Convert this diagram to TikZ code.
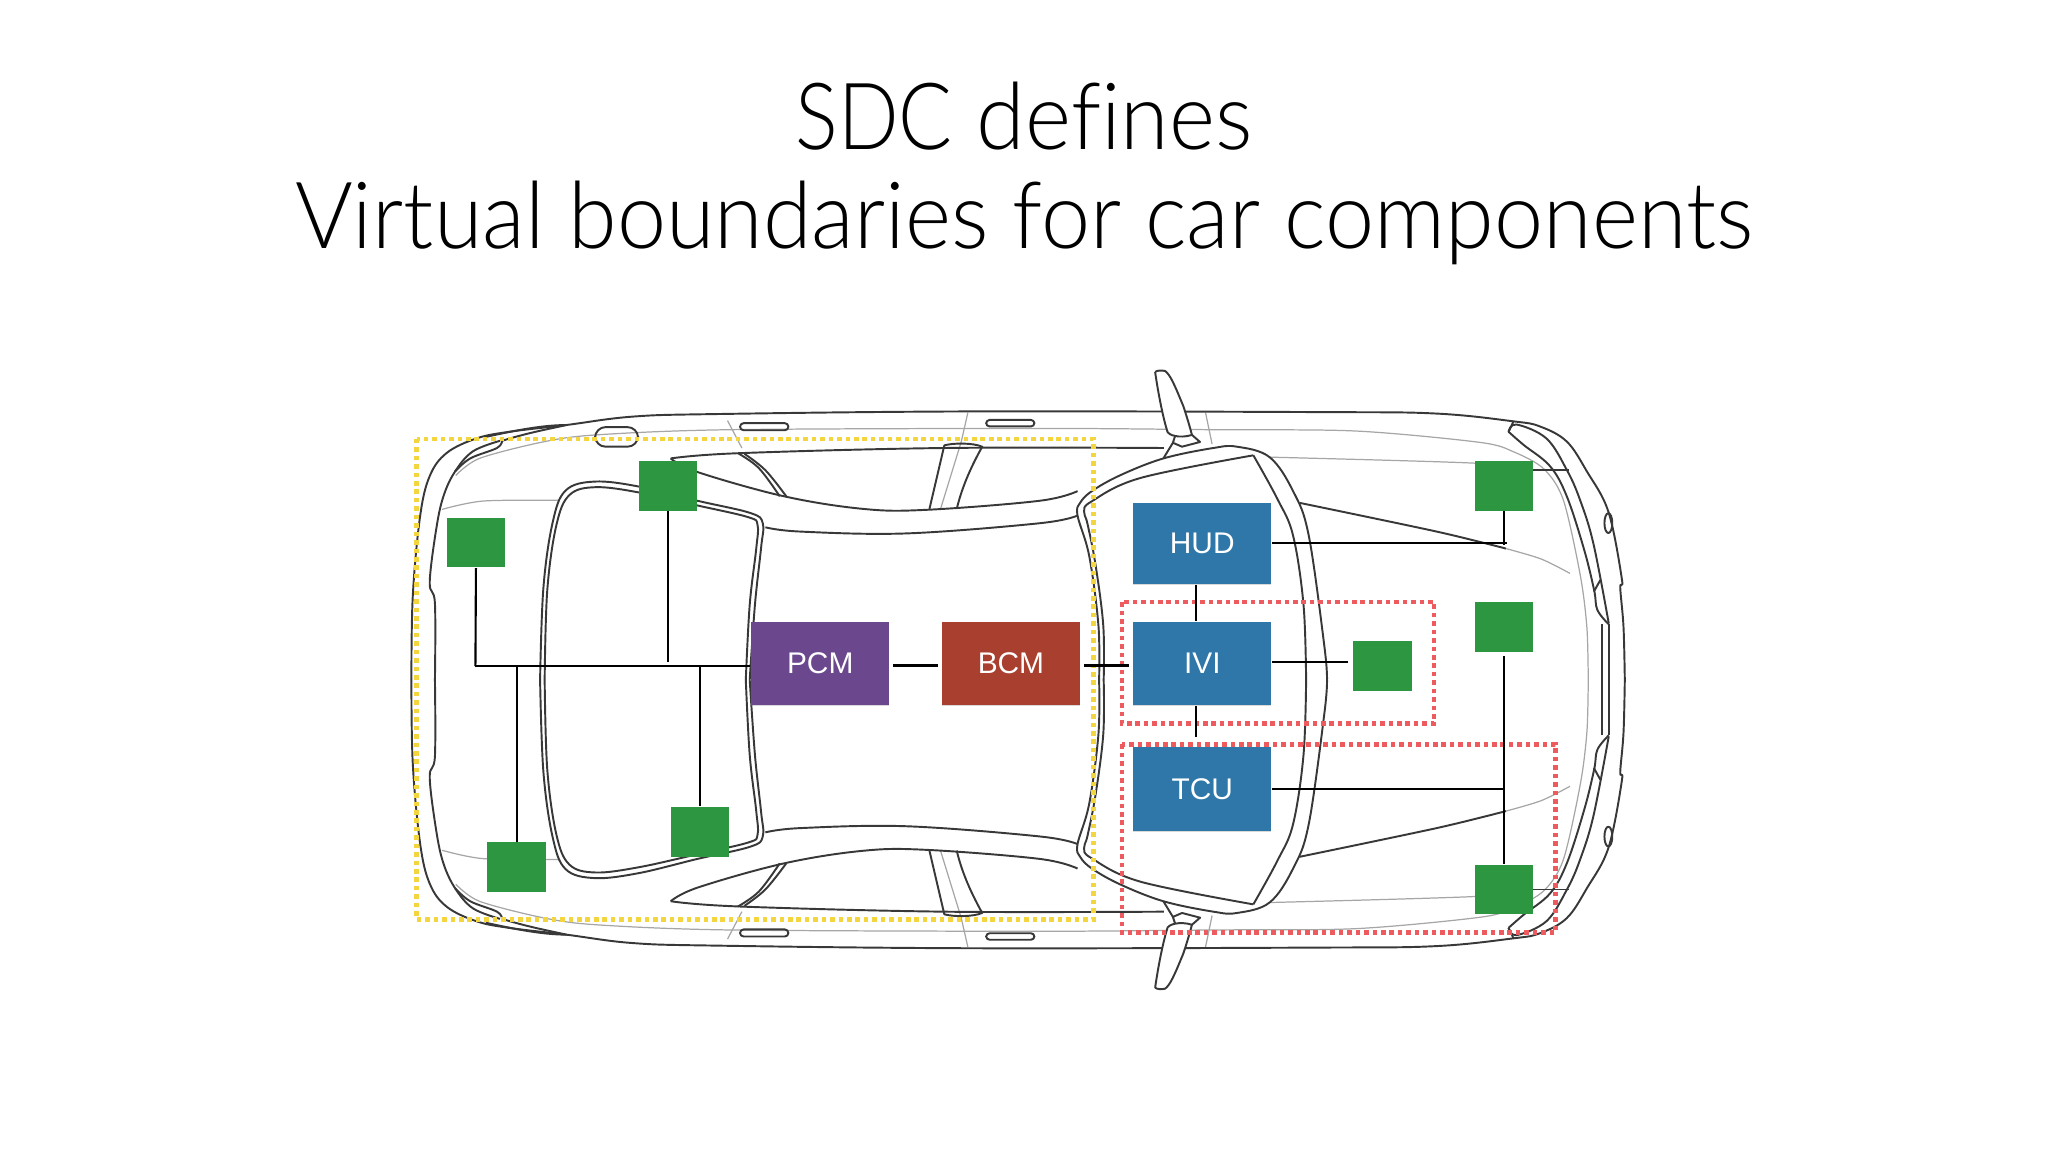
\documentclass[tikz,border=0pt]{standalone}
\usepackage{xcolor}
\usepackage{fontspec}
\usepackage{tikz}
\usetikzlibrary{calc}
\usetikzlibrary{shadows}
\setmainfont{Carlito}
\newfontfamily\titlefont{Lato Light}[FakeStretch=.95, Ligatures=NoCommon]
\newfontfamily\titlecaps{Lato Light}[FakeStretch=.86]
\newfontfamily\boxfont{Liberation Sans}
\definecolor{pcmcol}{HTML}{6B488E}
\definecolor{bcmcol}{HTML}{A93F2E}
\definecolor{ecucol}{HTML}{2E77A8}
\definecolor{sensorcol}{HTML}{2D9640}
\definecolor{yellowzone}{HTML}{F3D63F}
\definecolor{redzone}{HTML}{EE5B5E}
\tikzstyle{body} = [draw=black!78, line width=.55pt, line join=round]
\tikzstyle{seam} = [draw=black!35, line width=.35pt]
\tikzstyle{wire} = [-, draw=black, line width=.6pt]
\tikzstyle{zone} = [line width=1.3pt, dash pattern=on 1.3pt off 1.1pt]
\tikzstyle{ecu} = [rectangle, inner sep=0pt, minimum width=1.384cm, minimum height=.836cm, text=white, font=\boxfont\fontsize{8.5}{10}\selectfont, drop shadow={opacity=.3, shadow xshift=0pt, shadow yshift=-.3pt}]
\tikzstyle{sensor} = [rectangle, fill=sensorcol, inner sep=0pt, minimum width=.588cm, minimum height=.496cm]
\newcommand{\carhalf}{
  % shell
  \draw [seam] plot [smooth] coordinates {(338.5,390) (370,383.6) (428.5,383)};
  \draw [seam] plot [smooth] coordinates {(349,364) (367,351) (415,338.5) (456,333) (558,329) (796,328) (929,329) (1038,330) (1133,338.7) (1159,346) (1182,359) (1197,383) (1210,441) (1215,481) (1216,520.5)};
  \draw [seam] (557,322) -- (568,343) (741,316) -- (736,338) -- (720,390) (923,316) -- (928,340);
  \draw [seam] plot [smooth] coordinates {(972,350) (1129,354.6) (1174,360)};
  \draw [body] plot [smooth, tension=.6] coordinates {(315,520.5) (316,457) (321.6,395.6) (329,364.5) (342,346.8) (365,335.6) (390.5,330.5) (433.6,325.4) (484,319) (549,317) (742,315) (1008,315.5) (1099,316.6) (1158.8,322.6) (1179,326.5) (1199.5,338) (1215,361) (1231.5,392) (1241.7,443) (1240.5,450) (1243,480) (1244,520.5)};
  \draw [body] plot [smooth, tension=.6] coordinates {(333,520.5) (333,462) (329,446) (334,405) (339.5,380) (348.4,361) (362,345.6) (382.8,337.5)};
  \draw [body] plot [smooth, tension=.6] coordinates {(348.4,361) (360,351) (380.5,343) (384.4,337.5)};
  \draw [body] (372,334.5) .. controls (395,329.5) and (415,325.5) .. (433.6,325.4) .. controls (425,327.5) and (405,331) .. (384.4,337.5);
  % door handles
  \draw [body, rounded corners=1pt] (566.6,324) rectangle (603.6,329.4);
  \draw [body, rounded corners=1pt] (755,321.5) rectangle (792,326.5);
  % rear window
  \draw [body] plot [smooth, tension=.6] coordinates {(413.5,520.5) (416,450.6) (423,400.6) (433,375.6) (455.4,368.7) (489,372.5) (534,383.4) (574.6,392.8) (584,400.6) (582.7,419.4) (578,463) (574,520.5)};
  \draw [body] plot [smooth, tension=.6] coordinates {(417,520.5) (419,452) (426,402) (436,379) (456,373) (489,377) (534,387) (573,396) (580,402) (579,420) (574,463) (571,520.5)};
  % roof edges
  \draw [body] plot [smooth, tension=.6] coordinates {(513.5,351) (534.3,361.5) (600.4,380) (661.6,389.7) (710,390.3) (796,383.4) (825,376)};
  \draw [body] plot [smooth, tension=.6] coordinates {(586,403.7) (613,407) (694,408.4) (796,400.6) (825,394.7)};
  % side glass and pillars
  \draw [body] plot [smooth, tension=.6] coordinates {(513.5,351) (565,347) (723,343) (891,343)};
  \draw [body] plot [smooth, tension=.6] coordinates {(565,347) (581,358.4) (597,380)};
  \draw [body] plot [smooth, tension=.6] coordinates {(570,347.5) (586,360) (602,380)};
  \draw [body] (711.6,389.7) -- (723,341) .. controls (730,339) and (745,339) .. (752,342) .. controls (742,360) and (736,375) .. (732.5,389.7);
  % windshield
  \draw [body] plot [smooth, tension=.6] coordinates {(845,520.5) (844.7,479) (838.7,432) (832.6,401) (830,391.6) (835.6,384) (873,366) (959.6,348.6)};
  \draw [body] plot [smooth, tension=.6] coordinates {(841.5,520.5) (841,479) (834,426) (825,394.7) (827,385) (836,376) (857.6,363.9) (890.7,351) (929,343) (947,342) (972,350) (990,376) (1002,410) (1014,495) (1016,520.5)};
  \draw [body] plot [smooth, tension=.6] coordinates {(959.6,348.6) (978,382) (990,410) (998,463) (1000,520.5)};
  % mirror
  \draw [body, fill=white] (884.4,284.8) .. controls (886,283.5) and (889,283.5) .. (892,284) .. controls (896,287) and (899,294) .. (906,311) .. controls (909,320) and (911,327) .. (912.6,333) .. controls (908,334.5) and (903,334.5) .. (899.7,333.8) .. controls (896,333) and (895,332) .. (894,331) .. controls (891,322) and (887,303) .. (884.4,284.8);
  \draw [body] (899.7,333.8) -- (898,339) -- (890.7,351) (912.6,333) -- (918.8,338.4) -- (905,342) -- (898,339);
  % hood
  \draw [body] plot [smooth] coordinates {(995,385) (1100,407) (1153,420)};
  \draw [seam] plot [smooth] coordinates {(1153,420) (1180,428) (1202,439)};
  % headlamp
  \draw [body] plot [smooth, tension=.6] coordinates {(1155,330.6) (1161,325) (1184,335.7) (1199.7,360) (1209.8,383) (1220,416.4) (1231.7,477.2)};
  \draw [body] plot [smooth, tension=.6] coordinates {(1155,330.6) (1166.6,340.7) (1186.8,357) (1199.7,380.3) (1212.9,421) (1220.5,451.8) (1223,467) (1231.7,478)};
  \draw [body] (1155,330.6) -- (1158.8,322.6);
  \draw [body] (1174,360) -- (1201,360);
  \draw [body] (1225.3,444) -- (1220.3,453);
  \draw [body] (1226.5,478) -- (1226.5,520.5) (1231.7,478) -- (1231.7,520.5);
  \draw [body] (1231.4,400.5) ellipse [x radius=3, y radius=7.6];
}
\begin{document}
\begin{tikzpicture}[x=.0130612cm, y=-.0130612cm]
\useasboundingbox (0,0) rectangle (1568,882);
\node [font=\titlefont\fontsize{26.4}{28.1}\selectfont, align=center, text=black] (title) at (784,132.5) {{\titlecaps SDC} defines\\Virtual boundaries for car components};
\carhalf
\begin{scope}[shift={(0,1041)}, yscale=-1]
\carhalf
\end{scope}
\draw [body, rounded corners=3pt] (455.6,327) rectangle (488.5,342);
\draw [zone, draw=yellowzone] (319,336) rectangle (837,704);
\draw [zone, draw=redzone] (859,461) rectangle (1098,554);
\draw [zone, draw=redzone] (859,570) rectangle (1191,714);
\node [ecu, fill=pcmcol] (PCM) at (628,508) {PCM};
\node [ecu, fill=bcmcol] (BCM) at (774,508) {BCM};
\node [ecu, fill=ecucol, minimum height=.81cm] (HUD) at (920.5,416) {HUD};
\node [ecu, fill=ecucol] (IVI) at (920.5,508) {IVI};
\node [ecu, fill=ecucol] (TCU) at (920.5,604) {TCU};
\node [sensor] (rearA) at (364.5,415.5) {};
\node [sensor] (rearB) at (511.5,372) {};
\node [sensor] (rearC) at (395.5,664) {};
\node [sensor] (rearD) at (536,637) {};
\node [sensor] (frontA) at (1151.5,372) {};
\node [sensor] (frontB) at (1151.5,480) {};
\node [sensor] (infot) at (1058.5,510) {};
\node [sensor] (frontC) at (1151.5,681) {};
\coordinate (busend) at (364,510);
\draw [wire] (busend) -- (busend -| PCM.west);
\draw [wire] (rearA) -- (busend);
\draw [wire, shorten >=.04cm] (rearB) -- (rearB |- busend);
\draw [wire] (rearC) -- (rearC |- busend);
\draw [wire] (rearD) -- (rearD |- busend);
\draw [wire, shorten >=.03cm, shorten <=.03cm] ([yshift=-.02cm]PCM.east) -- ([yshift=-.02cm]BCM.west);
\draw [wire, shorten >=.03cm, shorten <=.03cm] ([yshift=-.02cm]BCM.east) -- ([yshift=-.02cm]IVI.west);
\draw [wire] ([xshift=-.06cm]HUD.south) -- ([xshift=-.06cm]IVI.north);
\draw [wire, shorten >=.09cm] ([xshift=-.06cm]IVI.south) -- ([xshift=-.06cm]TCU.north);
\draw [wire, shorten >=.04cm] ([yshift=.015cm]IVI.east) -- ([yshift=.015cm]IVI.east -| infot.west);
\draw [wire, shorten >=-.03cm] (HUD.east) -- (HUD.east -| frontA);
\draw [wire, shorten >=-.02cm] (frontA) -- (frontA |- HUD.east);
\draw [wire] (TCU.east) -- (TCU.east -| frontB);
\draw [wire, shorten <=.04cm] (frontB) -- (frontC);
\end{tikzpicture}
\end{document}
